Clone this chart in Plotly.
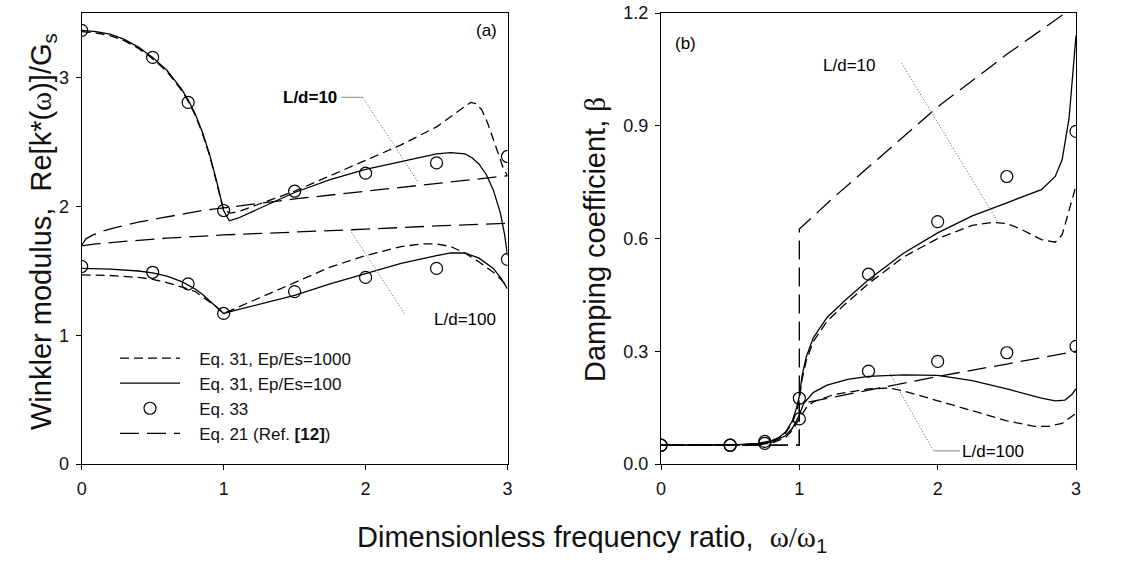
import plotly.graph_objects as go

# ---------------- panel (a): Winkler modulus ----------------
a_x_eq33 = [0, 0.5, 0.75, 1, 1.5, 2, 2.5, 3]
a_eq33_ld10 = [3.37, 3.16, 2.81, 1.97, 2.12, 2.26, 2.34, 2.39]
a_eq33_ld100 = [1.535, 1.49, 1.40, 1.17, 1.34, 1.45, 1.52, 1.59]

a_x_s10 = [0, 0.1, 0.2, 0.3, 0.4, 0.5, 0.6, 0.7, 0.75, 0.8, 0.85, 0.9, 0.95, 1.0, 1.04, 1.1, 1.2, 1.3, 1.4, 1.5,
           1.75, 2.0, 2.25, 2.5, 2.6, 2.7, 2.75, 2.8, 2.85, 2.9, 2.95, 2.98, 3.0]
a_y_s10 = [3.37, 3.36, 3.34, 3.30, 3.24, 3.16, 3.06, 2.92, 2.83, 2.72, 2.58, 2.41, 2.20, 1.97, 1.89, 1.91, 1.96, 2.01, 2.06, 2.11,
           2.21, 2.29, 2.35, 2.41, 2.42, 2.41, 2.38, 2.33, 2.25, 2.13, 1.95, 1.78, 1.62]

a_x_d10 = [0, 0.1, 0.2, 0.3, 0.4, 0.5, 0.6, 0.7, 0.75, 0.8, 0.85, 0.9, 0.95, 1.0, 1.05, 1.1, 1.2, 1.3, 1.4, 1.5,
           1.75, 2.0, 2.25, 2.5, 2.6, 2.7, 2.74, 2.78, 2.82, 2.86, 2.9, 2.94, 2.97, 3.0]
a_y_d10 = [3.36, 3.35, 3.33, 3.29, 3.23, 3.15, 3.05, 2.91, 2.82, 2.71, 2.57, 2.40, 2.19, 1.97, 1.95, 1.96, 2.00, 2.04, 2.08, 2.12,
           2.24, 2.36, 2.48, 2.62, 2.70, 2.78, 2.81, 2.80, 2.75, 2.65, 2.52, 2.39, 2.30, 2.24]

a_x_r10 = [0, 0.03, 0.08, 0.15, 0.25, 0.4, 0.55, 0.7, 0.85, 1.0, 1.5, 2.0, 2.5, 3.0]
a_y_r10 = [1.70, 1.75, 1.78, 1.81, 1.84, 1.88, 1.91, 1.94, 1.97, 1.99, 2.06, 2.12, 2.18, 2.24]

a_x_r100 = [0, 0.1, 0.3, 0.6, 1.0, 1.5, 2.0, 2.5, 3.0]
a_y_r100 = [1.695, 1.71, 1.73, 1.755, 1.78, 1.80, 1.825, 1.85, 1.87]

a_x_s100 = [0, 0.2, 0.4, 0.5, 0.6, 0.7, 0.75, 0.8, 0.85, 0.9, 0.95, 1.0, 1.1, 1.25, 1.5, 1.75, 2.0, 2.25, 2.5,
            2.6, 2.7, 2.8, 2.9, 2.95, 3.0]
a_y_s100 = [1.52, 1.515, 1.50, 1.485, 1.46, 1.42, 1.39, 1.36, 1.32, 1.27, 1.22, 1.17, 1.20, 1.24, 1.31, 1.40, 1.48, 1.56, 1.62,
            1.64, 1.64, 1.60, 1.52, 1.45, 1.36]

a_x_d100 = [0, 0.2, 0.4, 0.5, 0.6, 0.7, 0.75, 0.8, 0.85, 0.9, 0.95, 1.0, 1.1, 1.25, 1.5, 1.75, 2.0, 2.25, 2.4, 2.5,
            2.6, 2.7, 2.8, 2.9, 2.95, 3.0]
a_y_d100 = [1.47, 1.465, 1.45, 1.435, 1.41, 1.38, 1.36, 1.34, 1.30, 1.26, 1.22, 1.17, 1.22, 1.29, 1.41, 1.53, 1.62, 1.69, 1.71, 1.71,
            1.69, 1.64, 1.57, 1.49, 1.44, 1.38]

# ---------------- panel (b): damping coefficient ----------------
b_x_eq33 = [0, 0.5, 0.75, 1, 1.5, 2, 2.5, 3]
b_eq33_ld10 = [0.05, 0.05, 0.06, 0.175, 0.505, 0.645, 0.765, 0.885]
b_eq33_ld100 = [0.05, 0.05, 0.055, 0.12, 0.247, 0.273, 0.296, 0.313]

b_x_s10 = [0, 0.5, 0.7, 0.8, 0.85, 0.9, 0.95, 0.98, 1.0, 1.02, 1.05, 1.1, 1.2, 1.33, 1.5, 1.75, 2.0, 2.25, 2.5, 2.75,
           2.85, 2.9, 2.95, 2.98, 3.0]
b_y_s10 = [0.05, 0.05, 0.055, 0.062, 0.07, 0.085, 0.115, 0.15, 0.18, 0.235, 0.285, 0.335, 0.39, 0.435, 0.49, 0.56, 0.615, 0.66, 0.695, 0.73,
           0.765, 0.81, 0.92, 1.04, 1.14]

b_x_d10 = [0, 0.5, 0.7, 0.8, 0.85, 0.9, 0.95, 0.98, 1.0, 1.02, 1.05, 1.1, 1.2, 1.33, 1.5, 1.75, 2.0, 2.25, 2.4, 2.5,
           2.6, 2.75, 2.85, 2.9, 2.95, 3.0]
b_y_d10 = [0.05, 0.05, 0.054, 0.06, 0.068, 0.082, 0.11, 0.14, 0.17, 0.225, 0.275, 0.325, 0.38, 0.425, 0.48, 0.55, 0.60, 0.635, 0.643, 0.64,
           0.625, 0.597, 0.59, 0.61, 0.675, 0.74]

b_x_s100 = [0, 0.5, 0.7, 0.8, 0.9, 0.95, 1.0, 1.03, 1.1, 1.2, 1.35, 1.5, 1.75, 2.0, 2.25, 2.5, 2.75, 2.85, 2.92, 2.97, 3.0]
b_y_s100 = [0.05, 0.05, 0.052, 0.058, 0.075, 0.095, 0.13, 0.16, 0.19, 0.21, 0.225, 0.233, 0.237, 0.236, 0.222, 0.2, 0.175, 0.168, 0.17, 0.185, 0.2]

b_x_d100 = [0, 0.5, 0.7, 0.8, 0.9, 0.95, 1.0, 1.05, 1.1, 1.25, 1.5, 1.65, 1.75, 2.0, 2.25, 2.5, 2.7, 2.8, 2.9, 3.0]
b_y_d100 = [0.05, 0.05, 0.051, 0.056, 0.07, 0.09, 0.12, 0.15, 0.165, 0.185, 0.2, 0.202, 0.195, 0.168, 0.14, 0.115, 0.1, 0.1, 0.108, 0.135]

b_x_r10 = [0, 1, 1, 1.25, 1.5, 2.0, 2.5, 3.0]
b_y_r10 = [0.05, 0.05, 0.625, 0.71, 0.79, 0.95, 1.09, 1.22]

b_x_r100 = [0, 1, 1, 1.5, 2, 2.5, 3]
b_y_r100 = [0.05, 0.05, 0.16, 0.197, 0.233, 0.266, 0.30]

# tick labels
a_yticks = [0, 1, 2, 3]
b_yticks = [0.0, 0.3, 0.6, 0.9, 1.2]
x_ticks = [0, 1, 2, 3]

# legend names
PAD = "\u00a0\u00a0\u00a0"
NAME_D = PAD + "Eq. 31, Ep/Es=1000"
NAME_S = PAD + "Eq. 31, Ep/Es=100"
NAME_C = PAD + "Eq. 33"
NAME_R = PAD + "Eq. 21 (Ref. <b>[12]</b>)"

FONT = "Liberation Sans, Arial, sans-serif"
SERIF = "Liberation Serif"
W, H = 1135, 565
SHORT = "9px,5px"
LONG = "19px,8px"
LW = 1.3

fig = go.Figure()


def line(x, y, dash, name, xa, ya, show):
    fig.add_trace(go.Scatter(
        x=x, y=y, mode="lines", xaxis=xa, yaxis=ya, name=name, legendgroup=name,
        showlegend=show, line=dict(color="black", width=LW, dash=dash), hoverinfo="skip"))


def circles(x, y, xa, ya, show):
    fig.add_trace(go.Scatter(
        x=x, y=y, mode="markers", xaxis=xa, yaxis=ya, name=NAME_C, legendgroup=NAME_C,
        showlegend=show, marker=dict(symbol="circle-open", size=12, color="black", line=dict(width=1.2)),
        hoverinfo="skip"))


# legend order: short dash, solid, circle, long dash
line(a_x_d10, a_y_d10, SHORT, NAME_D, "x", "y", True)
line(a_x_s10, a_y_s10, "solid", NAME_S, "x", "y", True)
circles(a_x_eq33, a_eq33_ld10, "x", "y", True)
line(a_x_r10, a_y_r10, LONG, NAME_R, "x", "y", True)
line(a_x_d100, a_y_d100, SHORT, NAME_D, "x", "y", False)
line(a_x_s100, a_y_s100, "solid", NAME_S, "x", "y", False)
circles(a_x_eq33, a_eq33_ld100, "x", "y", False)
line(a_x_r100, a_y_r100, LONG, NAME_R, "x", "y", False)

line(b_x_d10, b_y_d10, SHORT, NAME_D, "x2", "y2", False)
line(b_x_s10, b_y_s10, "solid", NAME_S, "x2", "y2", False)
circles(b_x_eq33, b_eq33_ld10, "x2", "y2", False)
line(b_x_r10, b_y_r10, LONG, NAME_R, "x2", "y2", False)
line(b_x_d100, b_y_d100, SHORT, NAME_D, "x2", "y2", False)
line(b_x_s100, b_y_s100, "solid", NAME_S, "x2", "y2", False)
circles(b_x_eq33, b_eq33_ld100, "x2", "y2", False)
line(b_x_r100, b_y_r100, LONG, NAME_R, "x2", "y2", False)

axis_common = dict(showline=True, linecolor="black", linewidth=1, mirror=True, ticks="outside", ticklen=5,
                   tickwidth=1, tickcolor="black", showgrid=False, zeroline=False, automargin=False,
                   tickfont=dict(size=18, family=FONT, color="#111"), ticklabelstandoff=3)

y_dom = [(H - 464) / H, (H - 13) / H]
fig.update_layout(
    width=W, height=H, margin=dict(l=0, r=0, t=0, b=0),
    paper_bgcolor="white", plot_bgcolor="white", template="none",
    font=dict(family=FONT, color="black"),
    xaxis=dict(domain=[81.7 / W, 507.5 / W], range=[0, 3], tickvals=x_ticks, anchor="y", **axis_common),
    yaxis=dict(domain=y_dom, range=[0, 3.505], tickvals=a_yticks, anchor="x", **axis_common),
    xaxis2=dict(domain=[661 / W, 1076 / W], range=[0, 3], tickvals=x_ticks, anchor="y2", **axis_common),
    yaxis2=dict(domain=y_dom, range=[0, 1.2], tickvals=b_yticks, tickformat=".1f", anchor="x2", **axis_common),
    showlegend=True,
    legend=dict(x=115 / W, y=(H - 340.5) / H, xanchor="left", yanchor="top", bgcolor="rgba(0,0,0,0)",
                font=dict(size=17, family=FONT, color="#111"), itemwidth=60, traceorder="grouped",
                tracegroupgap=0),
)

annots = [
    # panel labels
    dict(x=2.85, y=3.37, xref="x", yref="y", text="(a)", showarrow=False, font=dict(size=17)),
    dict(x=0.18, y=1.12, xref="x2", yref="y2", text="(b)", showarrow=False, font=dict(size=17)),
    # L/d labels
    dict(x=1.61, y=2.85, xref="x", yref="y", text="<b>L/d=10</b>", showarrow=False, font=dict(size=17)),
    dict(x=2.70, y=1.125, xref="x", yref="y", text="L/d=100", showarrow=False, font=dict(size=17)),
    dict(x=1.36, y=1.06, xref="x2", yref="y2", text="L/d=10", showarrow=False, font=dict(size=17)),
    dict(x=2.40, y=0.033, xref="x2", yref="y2", text="L/d=100", showarrow=False, font=dict(size=17)),
    # axis titles
    dict(x=592 / W, y=(H - 559) / H, xref="paper", yref="paper", showarrow=False,
         text="Dimensionless frequency ratio,  <span style=\"font-family:%s\">ω/ω</span><sub>1</sub>" % SERIF,
         font=dict(size=29, color="#111")),
    dict(x=23 / W, y=(H - 232) / H, xref="paper", yref="paper", showarrow=False, textangle=-90,
         text="Winkler modulus,  Re[k*(<span style=\"font-family:%s\">ω</span>)]/G<sub>s</sub>" % SERIF,
         font=dict(size=29, color="#111")),
    dict(x=595 / W, y=(H - 240) / H, xref="paper", yref="paper", showarrow=False, textangle=-90,
         text="Damping coefficient, <span style=\"font-family:%s\">β</span>" % SERIF,
         font=dict(size=29, color="#111")),
]
fig.update_layout(annotations=annots)

DOT = dict(color="#555", width=1, dash="1px,2px")
THIN = dict(color="#888", width=1)
shapes = [
    dict(type="line", xref="x", yref="y", x0=1.83, y0=2.85, x1=1.98, y1=2.85, line=THIN),
    dict(type="line", xref="x", yref="y", x0=1.98, y0=2.85, x1=2.37, y1=2.19, line=DOT),
    dict(type="line", xref="x", yref="y", x0=1.89, y0=1.82, x1=2.28, y1=1.16, line=DOT),
    dict(type="line", xref="x2", yref="y2", x0=1.74, y0=1.066, x1=2.43, y1=0.647, line=DOT),
    dict(type="line", xref="x2", yref="y2", x0=1.655, y0=0.24, x1=1.97, y1=0.035, line=DOT),
    dict(type="line", xref="x2", yref="y2", x0=1.97, y0=0.035, x1=2.16, y1=0.035, line=THIN),
]
fig.update_layout(shapes=shapes)

fig.write_html("out.html")
